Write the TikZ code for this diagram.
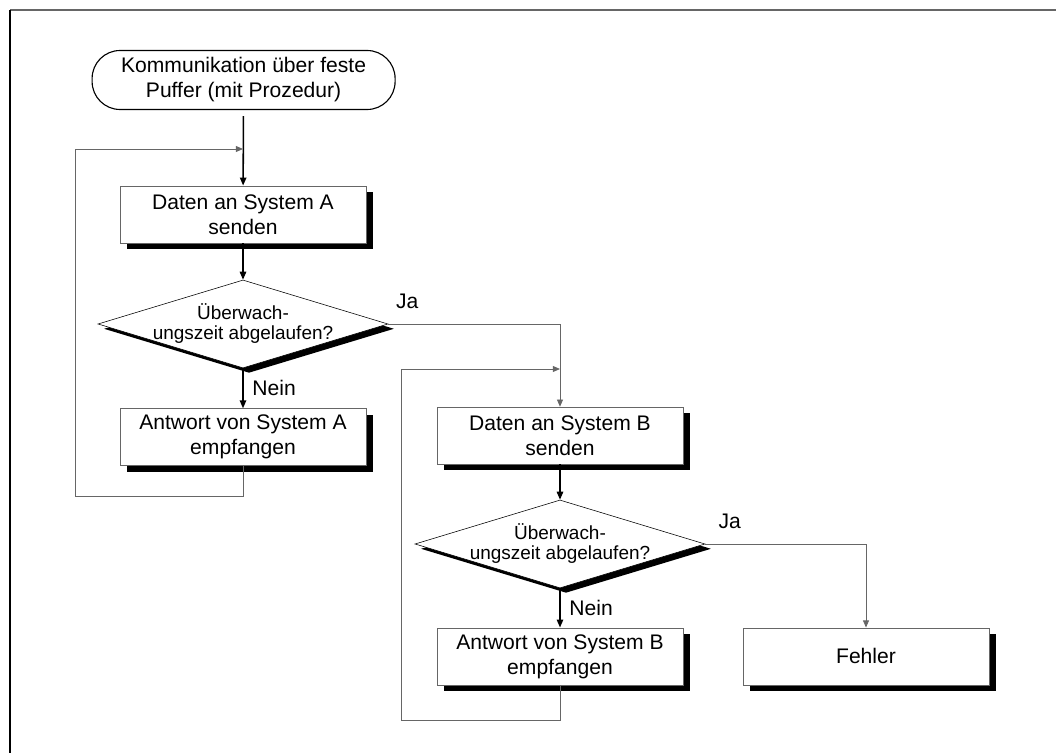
\documentclass[tikz,border=0pt]{standalone}
\usepackage{fontspec}
\setmainfont{Liberation Sans}
\usetikzlibrary{shapes.geometric, arrows.meta, shadows}

\definecolor{rahmengrau}{gray}{0.4}

\begin{document}
\begin{tikzpicture}[
    prozess/.style={draw=rahmengrau, line width=0.5pt, fill=white,
        minimum width=6.15cm, minimum height=1.425cm, inner sep=0pt,
        align=center, font=\fontsize{15}{17.8}\selectfont,
        drop shadow={shadow xshift=0.175cm, shadow yshift=-0.15cm, fill=black, opacity=1}},
    entscheidung/.style={diamond, draw=black, line width=0.4pt, fill=white,
        aspect=3.3, inner xsep=-0.5cm, inner ysep=-0.35cm,
        minimum width=7.25cm, minimum height=2.2cm,
        align=center, font=\fontsize{13.5}{14.2}\selectfont,
        drop shadow={shadow xshift=0.15cm, shadow yshift=-0.12cm, fill=black, opacity=1}},
    anfang/.style={draw=black, line width=0.8pt, rounded corners=0.7cm,
        minimum width=7.575cm, minimum height=1.475cm, inner sep=0pt,
        align=center, font=\fontsize{15}{17.8}\selectfont},
    fluss/.style={draw=black, line width=1.1pt, -{Triangle[length=2mm, width=1.6mm]}},
    rueck/.style={draw=rahmengrau, line width=0.6pt, -{Triangle[length=1.8mm, width=1.5mm]}},
    marke/.style={font=\fontsize{15}{17.8}\selectfont}
]
        % Bildgroesse und Rahmen (nur oben und links sichtbar)
        \useasboundingbox (0,0) rectangle (26.4,-18.825);
        \draw[rahmengrau, line width=1.2pt] (0.25,-0.25) -- (26.4,-0.25);
        \draw[black, line width=1.2pt] (0.25,-0.25) -- (0.25,-18.825);

        % Start
        \node[anfang] (start) at (6.09,-2.0) {Kommunikation über feste\\Puffer (mit Prozedur)};

        % Zweig System A
        \node[prozess] (sendenA) at (6.075,-5.36) {Daten an System A\\senden};
        \node[entscheidung] (zeitA) at (6.075,-8.1) {Überwach-\\ungszeit abgelaufen?};
        \node[prozess] (antwortA) at (6.075,-10.93) {Antwort von System A\\empfangen};

        % Zweig System B
        \node[prozess] (sendenB) at (14.0,-10.89) {Daten an System B\\senden};
        \node[entscheidung] (zeitB) at (14.0,-13.6) {Überwach-\\ungszeit abgelaufen?};
        \node[prozess] (antwortB) at (14.0,-16.41) {Antwort von System B\\empfangen};
        \node[prozess] (fehler) at (21.65,-16.41) {Fehler};

        % Hilfspunkte fuer die Schleifen
        \coordinate (eckeA) at (1.875,-12.4);
        \coordinate (zielA) at (6.075,-3.725);
        \coordinate (eckeB) at (10.025,-18.0);
        \coordinate (zielB) at (14.0,-9.225);

        % Verbindungen
        \draw[fluss, shorten <=0.15cm] (start) -- (sendenA);
        \draw[fluss] (sendenA) -- (zeitA);
        \draw[fluss] (zeitA) -- node[marke, right, xshift=0.1cm] {Nein} (antwortA);
        \draw[rueck] (antwortA.south) |- (eckeA) |- (zielA);
        \draw[rueck] (zeitA.east) -| node[marke, pos=0.055, yshift=0.575cm] {Ja} (sendenB.north);

        \draw[fluss] (sendenB) -- (zeitB);
        \draw[fluss] (zeitB) -- node[marke, right, xshift=0.1cm] {Nein} (antwortB);
        \draw[rueck] (antwortB.south) |- (eckeB) |- (zielB);
        \draw[rueck] (zeitB.east) -| node[marke, pos=0.076, yshift=0.575cm] {Ja} (fehler.north);
\end{tikzpicture}
\end{document}
